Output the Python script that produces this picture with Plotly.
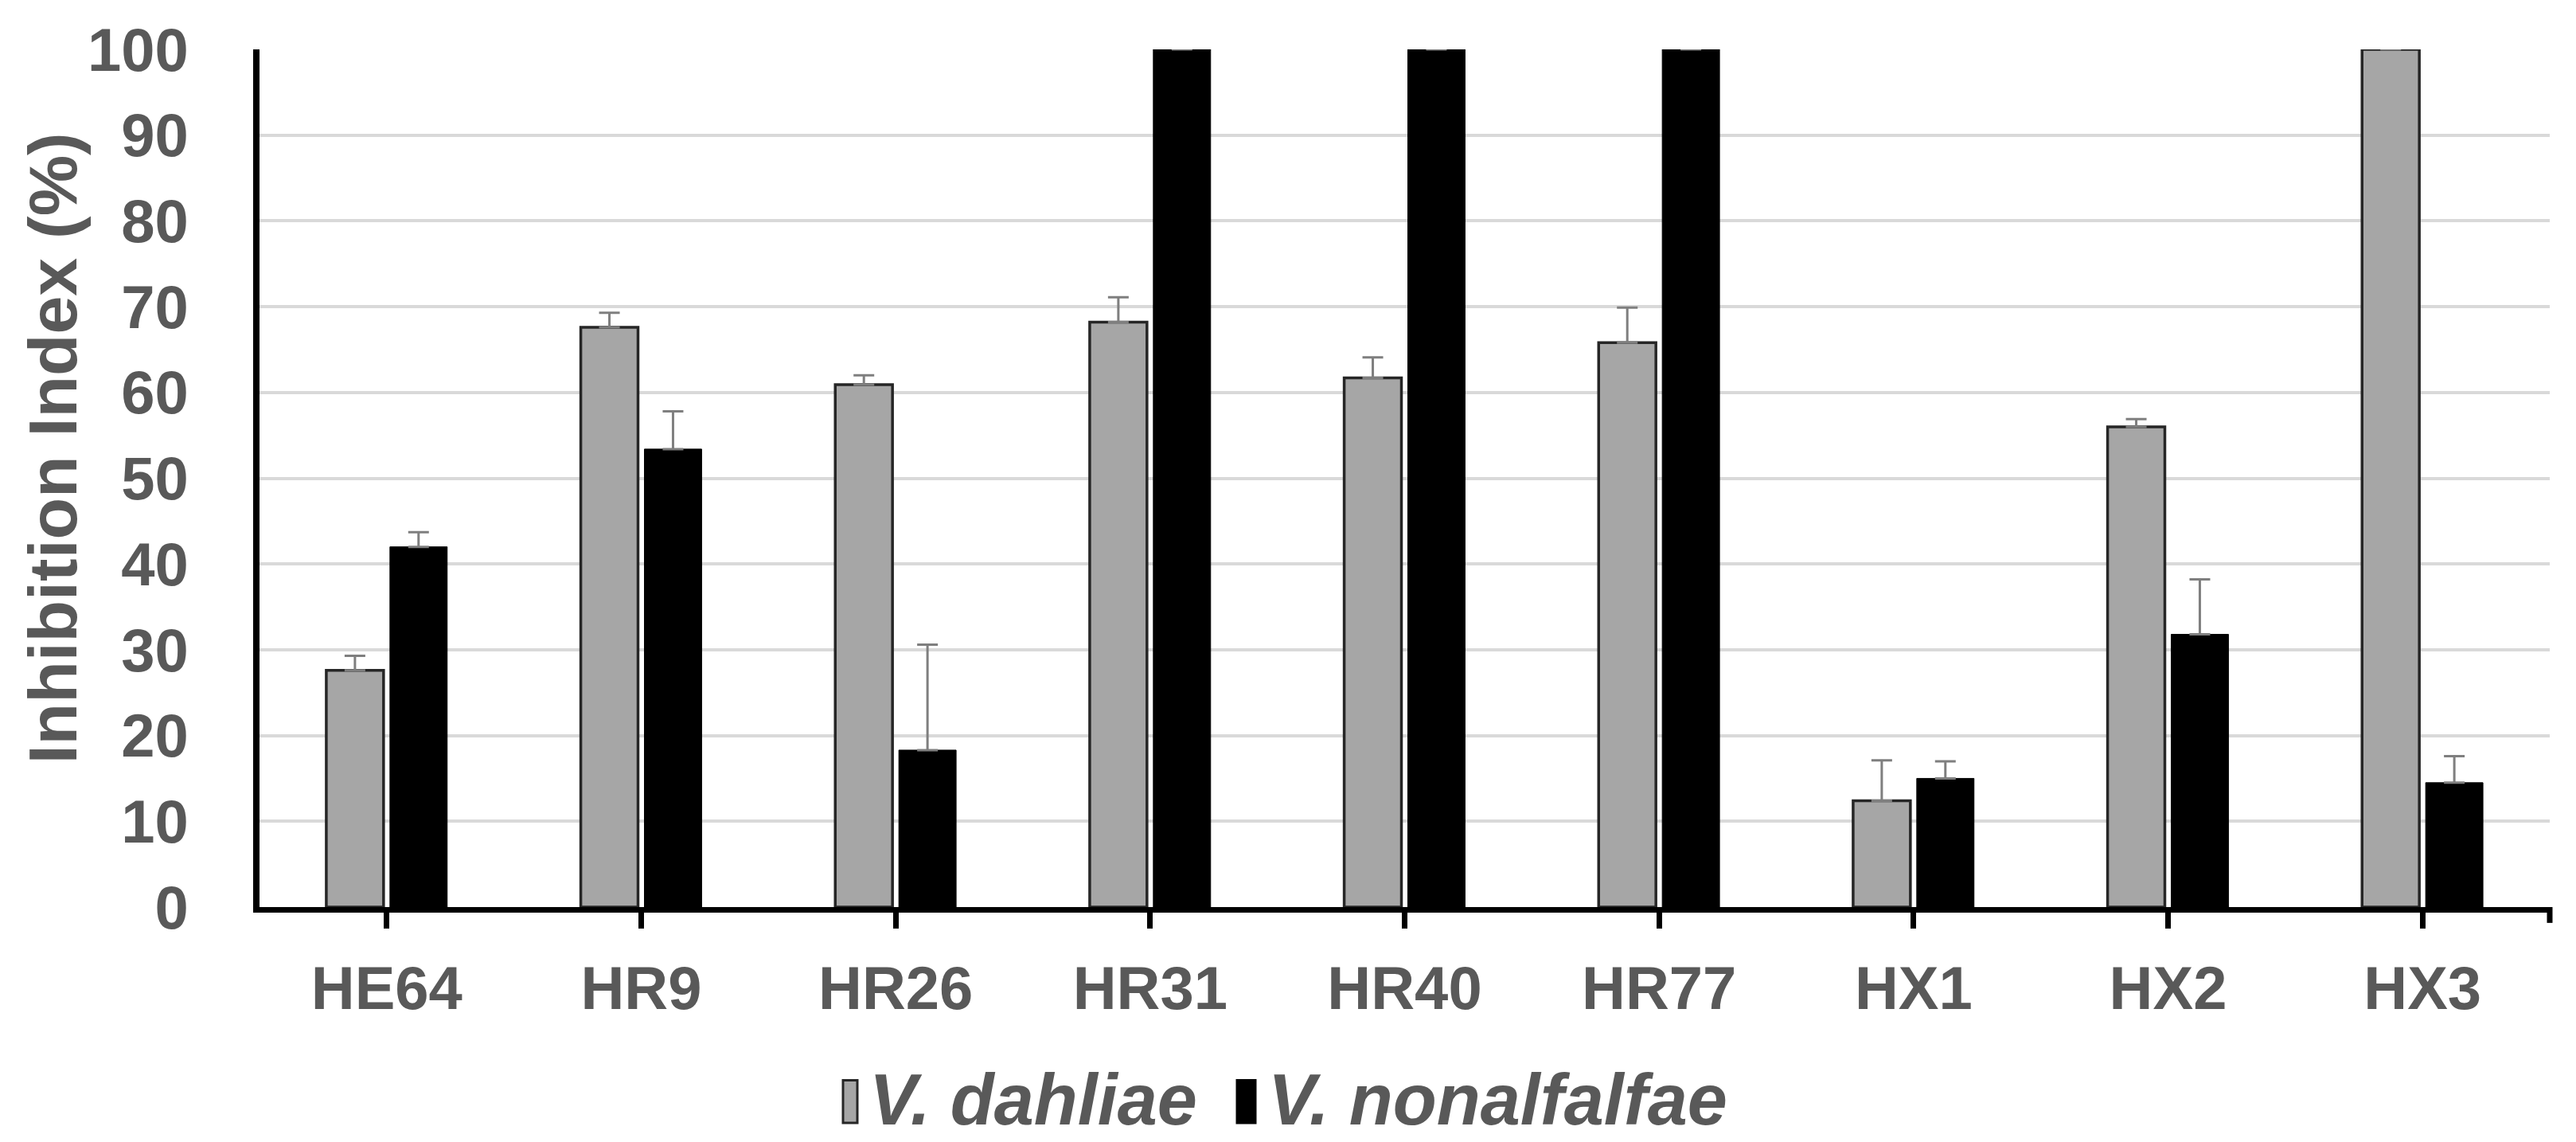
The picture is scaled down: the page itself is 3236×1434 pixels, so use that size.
import plotly.graph_objects as go

isolates = ["HE64", "HR9", "HR26", "HR31", "HR40", "HR77", "HX1", "HX2", "HX3"]
series_names = ["V. dahliae", "V. nonalfalfae"]
dahliae = [27.6, 67.6, 60.9, 68.2, 61.7, 65.8, 12.4, 56.0, 100.0]
dahliae_err = [1.7, 1.7, 1.1, 2.9, 2.4, 4.1, 4.7, 0.9, 0.0]
nonalfalfae = [42.0, 53.4, 18.3, 100.0, 100.0, 100.0, 15.0, 31.8, 14.5]
nonalfalfae_err = [1.7, 4.4, 12.3, 0.0, 0.0, 0.0, 2.0, 6.4, 3.1]
y_ticks = [0, 10, 20, 30, 40, 50, 60, 70, 80, 90, 100]

FONT = "Liberation Sans, Arial, sans-serif"
TXT = "#595959"
OFF = 8  # page body margin
W, H = 3236 - OFF, 1434 - OFF
# target positions in window pixels
AX_L, AX_R, AX_T, AX_B = 326, 3203, 54, 1139
ML, MR, MT, MB = AX_L - OFF, 3236 - AX_R, AX_T - OFF, 1434 - AX_B

fig = go.Figure()
fig.add_trace(go.Bar(
    x=isolates, y=dahliae, name=series_names[0],
    marker=dict(color="#A6A6A6", line=dict(color="#262626", width=3.5)),
    error_y=dict(type="data", array=dahliae_err, symmetric=False,
                 arrayminus=[0] * len(dahliae_err),
                 color="#7F7F7F", thickness=3, width=13),
    showlegend=False,
))
fig.add_trace(go.Bar(
    x=isolates, y=nonalfalfae, name=series_names[1],
    marker=dict(color="#000000", line=dict(color="#000000", width=1)),
    error_y=dict(type="data", array=nonalfalfae_err, symmetric=False,
                 arrayminus=[0] * len(nonalfalfae_err),
                 color="#7F7F7F", thickness=3, width=13),
    showlegend=False,
))

plot_h = AX_B - AX_T
plot_w = AX_R - AX_L


def px(xw):
    return (xw - AX_L) / plot_w


def py(yw):
    return (AX_B - yw) / plot_h


# custom legend (large rectangular keys like the original)
legend_items = [
    (series_names[0], "#A6A6A6", "#262626", 1059, 1077, 1090),
    (series_names[1], "#000000", "#000000", 1554, 1577, 1591),
]
shapes = []
annotations = []
for name, fill, outline, kx0, kx1, tx in legend_items:
    shapes.append(dict(type="rect", xref="paper", yref="paper",
                       x0=px(kx0), x1=px(kx1), y0=py(1412), y1=py(1358),
                       fillcolor=fill, line=dict(color=outline, width=3)))
    annotations.append(dict(text="<b><i>" + name + "</i></b>", xref="paper", yref="paper",
                            x=px(tx), y=py(1383),
                            xanchor="left", yanchor="middle", showarrow=False,
                            font=dict(family=FONT, size=90, color=TXT)))

# y-axis title
annotations.append(dict(text="<b>Inhibition Index (%)</b>", xref="paper", yref="paper",
                        x=px(66), y=py(559),
                        xanchor="center", yanchor="middle", textangle=-90, showarrow=False,
                        font=dict(family=FONT, size=86, color=TXT)))

# tick at the right end of the category axis
shapes.append(dict(type="line", xref="paper", yref="paper", x0=1, x1=1,
                   y0=0, y1=-20 / plot_h, line=dict(color="black", width=7)))

fig.update_layout(
    width=W, height=H,
    margin=dict(l=ML, r=MR, t=MT, b=MB),
    paper_bgcolor="white", plot_bgcolor="white",
    barmode="group", bargap=0.5, bargroupgap=0.1,
    font=dict(family=FONT, color=TXT),
    shapes=shapes, annotations=annotations,
)
fig.update_xaxes(
    showline=True, linecolor="black", linewidth=7,
    ticks="outside", ticklen=20, tickwidth=7, tickcolor="black",
    tickfont=dict(family=FONT, size=76, color=TXT, weight="bold"),
    ticklabelstandoff=10,
    showgrid=False, zeroline=False,
)
fig.update_yaxes(
    range=[0, 100], tickvals=y_ticks,
    showline=True, linecolor="black", linewidth=8,
    showgrid=True, gridcolor="#D9D9D9", gridwidth=4,
    zeroline=False, ticks="",
    tickfont=dict(family=FONT, size=76, color=TXT, weight="bold"),
    ticklabelstandoff=66,
)

fig.write_html("out.html")
